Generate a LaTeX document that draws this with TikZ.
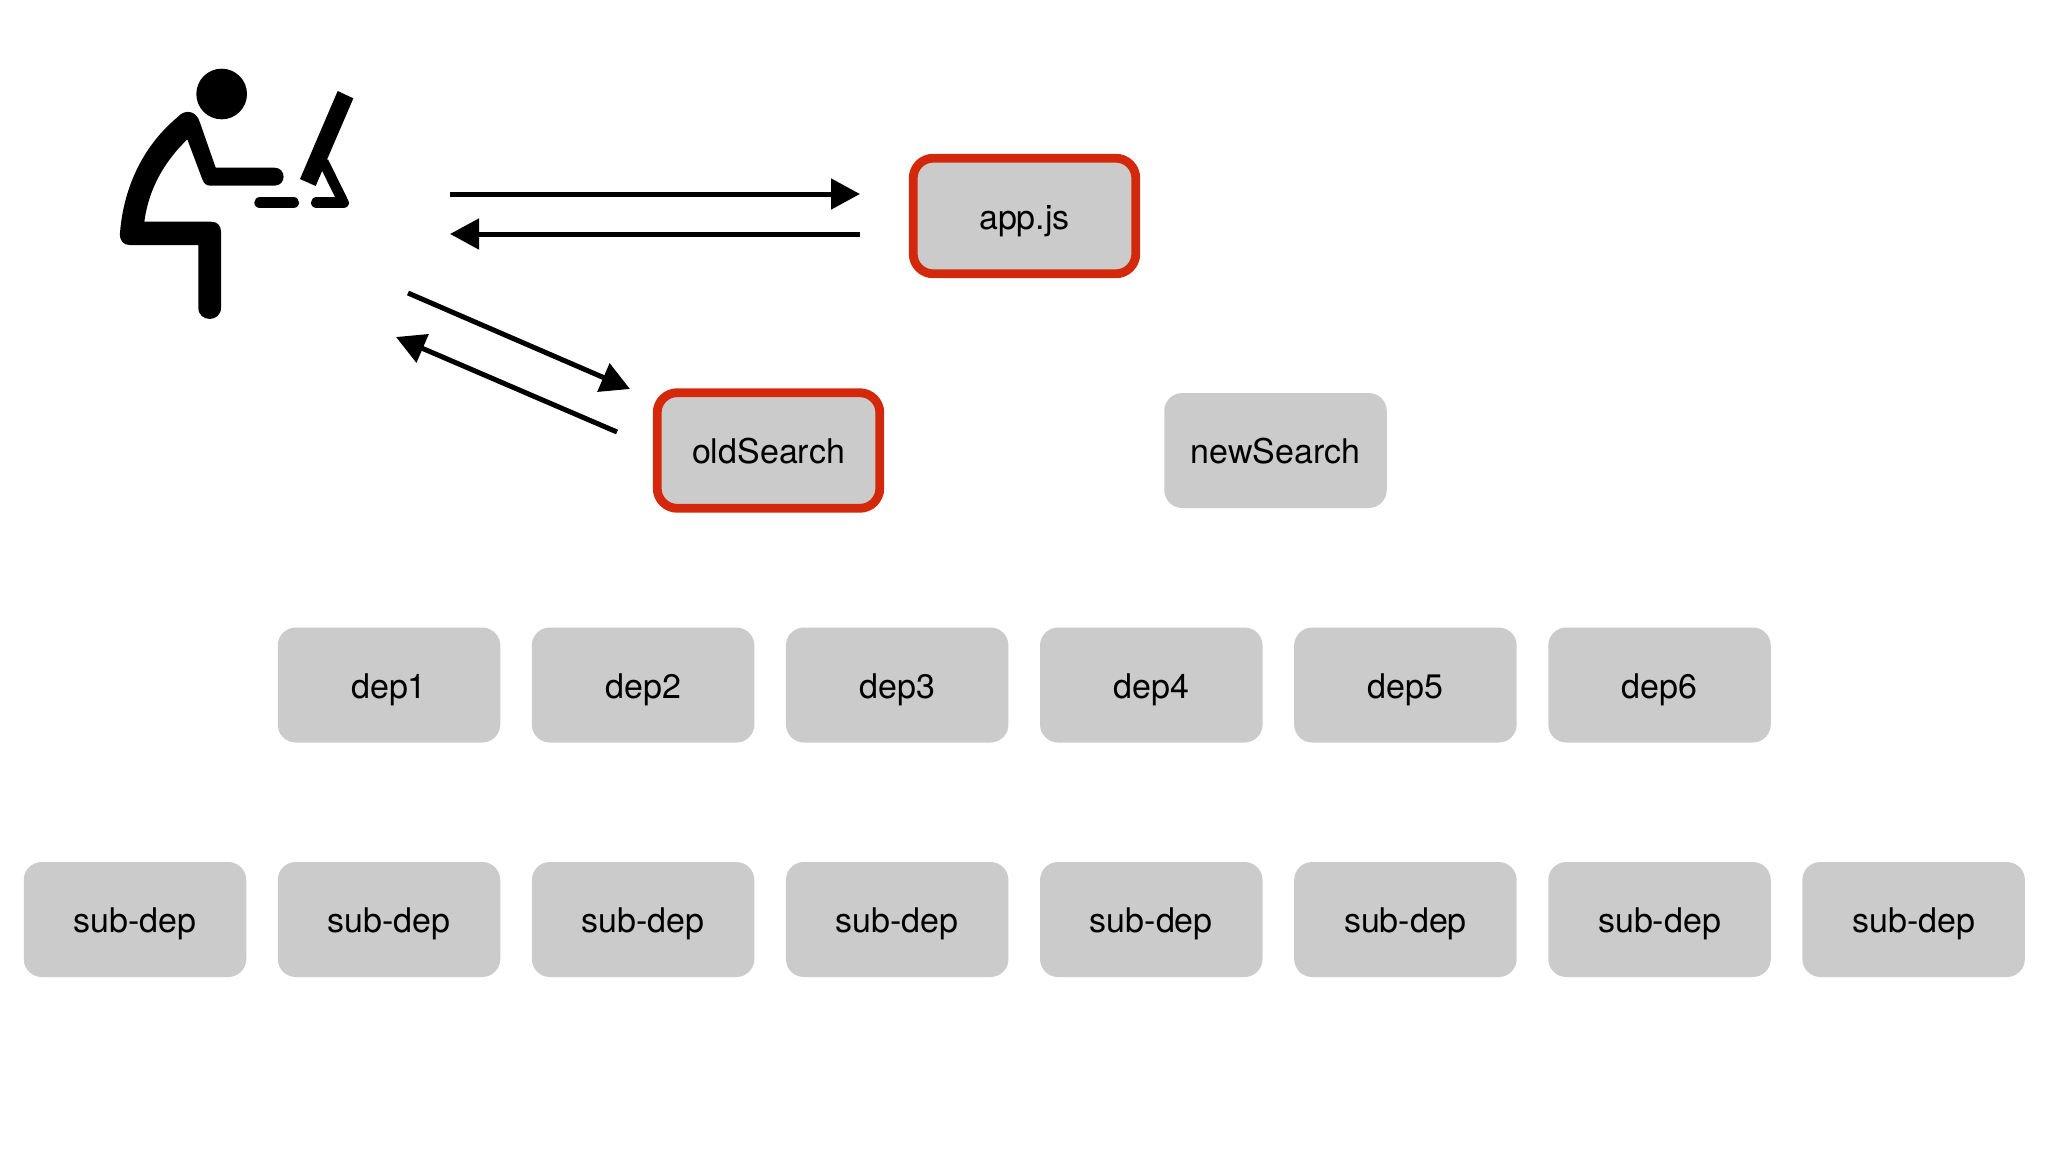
\documentclass[tikz,border=0pt]{standalone}
\usepackage{fontspec}
\setmainfont{TeX Gyre Heros}
\usetikzlibrary{arrows.meta}
\definecolor{boxgray}{HTML}{CCCBCC}
\definecolor{boxred}{HTML}{D4280C}
\tikzset{
  box/.style={rectangle,rounded corners=9pt,fill=boxgray,draw=none,minimum width=111.25pt,minimum height=57.5pt,inner sep=0pt,outer sep=0pt,
    font=\fontsize{17}{20}\selectfont,text=black,text height=16.3pt,text depth=3pt},
  redbox/.style={box,draw=boxred,line width=4.4pt,minimum width=111.3pt,minimum height=57.8pt,rounded corners=10pt},
  conn/.style={line width=2.5pt,draw=black,-{Triangle[length=14.5pt,width=15pt]}},
  figure/.style={fill=black,draw=none},
  limb/.style={draw=black,line cap=round,line join=round}
}
\begin{document}
\begin{tikzpicture}[x=0.5pt,y=-0.5pt]
\useasboundingbox[fill=white] (0,0) rectangle (2048,1152);
% person
\begin{scope}[shift={(90,40)},x=0.16667pt,y=-0.16667pt]
  \fill[figure] (395,162) circle[radius=76*0.16667pt];
  \fill[figure] (262,232) .. controls (168,310) and (102,430) .. (90,578)
    .. controls (88,603) and (100,615) .. (120,615) -- (325,615) -- (325,803)
    .. controls (325,848) and (393,848) .. (393,803) -- (393,575)
    .. controls (393,556) and (382,545) .. (362,545) -- (163,545)
    .. controls (177,440) and (228,360) .. (292,298) -- (337,418)
    .. controls (342,432) and (350,437) .. (362,437) -- (553,437)
    .. controls (590,437) and (590,383) .. (553,383) -- (377,383) -- (330,248)
    .. controls (320,212) and (285,205) .. (262,232) -- cycle;
  \draw[limb,line width=5.7pt] (510,488) -- (610,488);
  \draw[limb,line width=5.7pt] (680,488) -- (760,488);
  \draw[limb,line width=5.2pt,line cap=butt] (700,365) -- (757,480);
  \fill[figure] (743,153) -- (790,175) -- (677,438) -- (630,417) -- cycle;
\end{scope}
% boxes
\node[redbox] (app) at (1024.5,216) {app.js};
\node[redbox] (old) at (768.5,450.5) {oldSearch};
\node[box] (new) at (1275.5,450.5) {newSearch};
\foreach \n/\x in {1/389,2/643.1,3/897.2,4/1151.3,5/1405.4,6/1659.5}
  \node[box] (dep\n) at (\x,685) {dep\n};
\foreach \n/\x in {1/135,2/389,3/643.1,4/897.2,5/1151.3,6/1405.4,7/1659.5,8/1913.6}
  \node[box] (sub\n) at (\x,919.5) {sub-dep};
% connectors
\coordinate (a1) at (450,194);
\coordinate (a2) at (860,194);
\coordinate (b1) at (860,234);
\coordinate (b2) at (450,234);
\coordinate (c1) at (408,293);
\coordinate (c2) at (630,389);
\coordinate (d1) at (617,432);
\coordinate (d2) at (396,337);
\draw[conn] (a1) -- (a2);
\draw[conn] (b1) -- (b2);
\draw[conn] (c1) -- (c2);
\draw[conn] (d1) -- (d2);
\end{tikzpicture}
\end{document}
